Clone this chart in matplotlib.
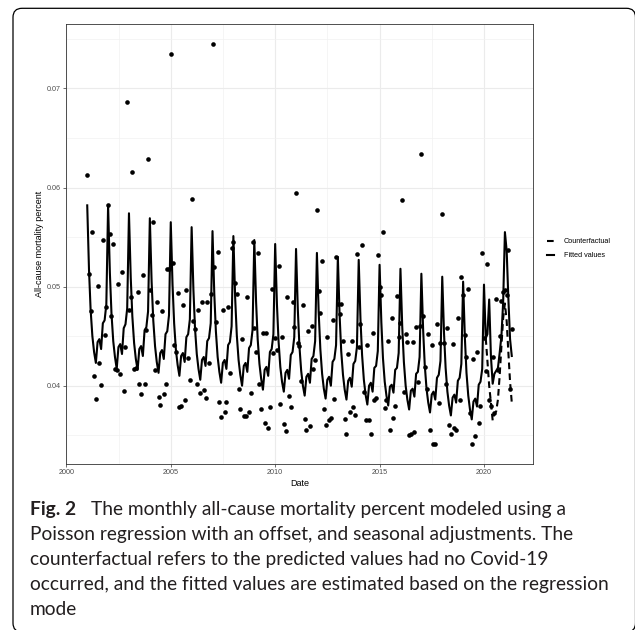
import pandas as pd
import matplotlib
matplotlib.use("Agg")
import matplotlib.pyplot as plt
from matplotlib.patches import FancyBboxPatch
from matplotlib.lines import Line2D

# monthly all-cause mortality percent, Jan 2001 - May 2021
observed = [
    # 2001
    .0613, .0513, .0475, .0555, .0410, .0387, .0501, .0423, .0401, .0547, .0451, .0479,
    # 2002
    .0582, .0553, .0470, .0543, .0417, .0416, .0503, .0412, .0515, .0395, .0439, .0686,
    # 2003
    .0476, .0490, .0616, .0417, .0418, .0495, .0402, .0392, .0512, .0402, .0456, .0629,
    # 2004
    .0497, .0471, .0565, .0416, .0484, .0389, .0381, .0475, .0392, .0402, .0518, .0518,
    # 2005
    .0735, .0524, .0441, .0434, .0494, .0379, .0380, .0481, .0386, .0497, .0428, .0406,
    # 2006
    .0588, .0465, .0457, .0402, .0476, .0393, .0484, .0396, .0388, .0484, .0423, .0493,
    # 2007
    .0745, .0520, .0464, .0535, .0384, .0368, .0476, .0373, .0384, .0479, .0413, .0539,
    # 2008
    .0545, .0504, .0493, .0397, .0376, .0447, .0369, .0369, .0490, .0373, .0393, .0545,
    # 2009
    .0458, .0434, .0534, .0402, .0377, .0453, .0362, .0453, .0357, .0379, .0498, .0433,
    # 2010
    .0448, .0436, .0521, .0382, .0449, .0361, .0354, .0490, .0390, .0379, .0484, .0459,
    # 2011
    .0594, .0443, .0440, .0405, .0481, .0366, .0355, .0455, .0359, .0460, .0417, .0426,
    # 2012
    .0577, .0496, .0473, .0526, .0376, .0360, .0449, .0365, .0367, .0466, .0387, .0530,
    # 2013
    .0482, .0472, .0482, .0445, .0366, .0351, .0432, .0373, .0445, .0379, .0370, .0533,
    # 2014
    .0439, .0462, .0542, .0394, .0365, .0441, .0365, .0351, .0453, .0386, .0388, .0532,
    # 2015
    .0500, .0492, .0555, .0378, .0386, .0445, .0355, .0468, .0367, .0380, .0491, .0449,
    # 2016
    .0463, .0587, .0394, .0452, .0444, .0350, .0351, .0444, .0353, .0459, .0404, .0460,
    # 2017
    .0634, .0470, .0419, .0397, .0452, .0355, .0441, .0341, .0341, .0462, .0383, .0443,
    # 2018
    .0573, .0443, .0402, .0458, .0360, .0351, .0442, .0357, .0355, .0468, .0386, .0510,
    # 2019
    .0492, .0451, .0429, .0498, .0372, .0341, .0427, .0349, .0434, .0362, .0380, .0534,
    # 2020
    .0448, .0415, .0523, .0386, .0380, .0429, .0372, .0488, .0416, .0450, .0485, .0495,
    # 2021
    .0497, .0492, .0537, .0397, .0457,
]

fitted = [
    .0582, .0517, .0477, .0450, .0434, .0423, .0444, .0447, .0437, .0463, .0466, .0482,
    .0582, .0514, .0473, .0445, .0429, .0417, .0439, .0442, .0432, .0458, .0462, .0478,
    .0574, .0509, .0470, .0443, .0427, .0416, .0437, .0440, .0430, .0456, .0459, .0475,
    .0569, .0505, .0466, .0440, .0424, .0413, .0433, .0436, .0427, .0452, .0455, .0471,
    .0565, .0502, .0463, .0436, .0421, .0410, .0430, .0433, .0424, .0449, .0452, .0467,
    .0560, .0497, .0458, .0432, .0417, .0406, .0426, .0429, .0420, .0445, .0448, .0463,
    .0556, .0493, .0455, .0429, .0414, .0403, .0423, .0426, .0417, .0441, .0444, .0460,
    .0551, .0489, .0451, .0426, .0411, .0400, .0420, .0423, .0414, .0438, .0441, .0456,
    .0547, .0485, .0447, .0422, .0407, .0396, .0416, .0419, .0410, .0434, .0437, .0452,
    .0543, .0482, .0445, .0419, .0404, .0394, .0413, .0416, .0407, .0431, .0434, .0449,
    .0538, .0477, .0440, .0415, .0400, .0390, .0409, .0412, .0403, .0427, .0430, .0445,
    .0534, .0474, .0437, .0412, .0397, .0387, .0406, .0409, .0400, .0424, .0427, .0441,
    .0530, .0471, .0435, .0411, .0396, .0386, .0405, .0408, .0399, .0422, .0425, .0439,
    .0527, .0467, .0431, .0406, .0391, .0381, .0400, .0403, .0394, .0418, .0420, .0435,
    .0522, .0464, .0428, .0404, .0390, .0380, .0399, .0401, .0393, .0416, .0418, .0433,
    .0518, .0460, .0424, .0400, .0386, .0376, .0395, .0397, .0389, .0412, .0414, .0429,
    .0513, .0456, .0421, .0397, .0383, .0373, .0391, .0394, .0386, .0408, .0411, .0425,
    .0510, .0453, .0418, .0394, .0380, .0370, .0388, .0391, .0383, .0405, .0408, .0422,
    .0505, .0448, .0413, .0390, .0376, .0366, .0384, .0387, .0379, .0401, .0404, .0417,
    .0502, .0448, .0452, .0487, .0430, .0402, .0412, .0415, .0418, .0433, .0450, .0484,
    .0555, .0536, .0490, .0447, .0430,
]

# counterfactual (no Covid-19), Feb 2020 - May 2021
counterfactual = [
    .0448, .0425, .0400, .0383, .0365, .0372, .0374, .0386, .0410, .0440, .0468,
    .0483, .0465, .0435, .0404, .0383,
]

year_ticks = [2000, 2005, 2010, 2015, 2020]
y_ticks = [0.04, 0.05, 0.06, 0.07]
y_minor = [0.035, 0.045, 0.055, 0.065, 0.075]

caption = [
    "The monthly all-cause mortality percent modeled using a",
    "Poisson regression with an offset, and seasonal adjustments. The",
    "counterfactual refers to the predicted values had no Covid-19",
    "occurred, and the fitted values are estimated based on the regression",
    "mode",
]

dates = pd.date_range("2001-01-01", periods=len(observed), freq="MS")
cf_dates = dates[-len(counterfactual):]

W, H = 635, 630
fig = plt.figure(figsize=(W / 100, H / 100), dpi=100)


def fx(px):
    return px / W


def fy(py):
    return 1 - py / H


ax = fig.add_axes([fx(66), fy(464), (533 - 66) / W, (464 - 24) / H])

ax.plot(cf_dates, counterfactual, color="black", lw=1.5, ls=(0, (3.2, 2.0)))
ax.plot(dates, fitted, color="black", lw=1.5)
ax.scatter(dates, observed, s=11, color="black", linewidths=0, zorder=3)

span = dates[-1] - dates[0]
ax.set_xlim(dates[0] - 0.05 * span, dates[-1] + 0.05 * span)
ax.set_ylim(0.0321, 0.0765)

major = [pd.Timestamp(f"{y}-01-01") for y in year_ticks]
minor = [major[i] + (major[i + 1] - major[i]) / 2 for i in range(len(major) - 1)]
ax.set_xticks(major)
ax.set_xticklabels([str(y) for y in year_ticks])
ax.set_xticks(minor, minor=True)
ax.set_yticks(y_ticks)
ax.set_yticklabels([f"{v:.2f}" for v in y_ticks])
ax.set_yticks(y_minor, minor=True)

ax.set_axisbelow(True)
ax.grid(which="major", color="#EBEBEB", lw=0.8)
ax.grid(which="minor", color="#F2F2F2", lw=0.5)
for s in ax.spines.values():
    s.set_color("#333333")
    s.set_linewidth(0.6)
ax.tick_params(which="major", length=2, width=0.5, color="#333333",
               labelsize=5.2, labelcolor="#4D4D4D", pad=1.5)
ax.tick_params(which="minor", length=0)
for lab in ax.get_xticklabels() + ax.get_yticklabels():
    lab.set_family("Liberation Sans")

ax.set_xlabel("Date", fontsize=6.5, family="Liberation Sans", labelpad=2)
ax.set_ylabel("All-cause mortality percent", fontsize=6.5,
              family="Liberation Sans", labelpad=2)

handles = [Line2D([], [], color="black", lw=1.5, ls=(0, (3.2, 2.0))),
           Line2D([], [], color="black", lw=1.5)]
leg = ax.legend(handles, ["Counterfactual", "Fitted values"],
                loc="upper left", bbox_to_anchor=(fx(547), fy(238)),
                bbox_transform=fig.transFigure, frameon=False,
                prop={"family": "Liberation Sans", "size": 5.2},
                handlelength=1.0, handletextpad=1.3, labelspacing=1.0,
                borderpad=0, borderaxespad=0)

# caption
cap_font = "Lato"
cap_size = 13.8
fig.text(fx(30), fy(515), "Fig. 2", family=cap_font, weight="bold",
         size=cap_size, color="#231F20", va="baseline")
fig.text(fx(91), fy(515), caption[0], family=cap_font, size=cap_size,
         color="#231F20", va="baseline")
for i, line in enumerate(caption[1:]):
    fig.text(fx(30), fy(540 + 25 * i), line, family=cap_font, size=cap_size,
             color="#231F20", va="baseline")

# rounded frame around the figure
frame = FancyBboxPatch((0.13, -0.02), 6.225, 6.237,
                       boxstyle="round,pad=0,rounding_size=0.09",
                       transform=fig.dpi_scale_trans, fill=False,
                       edgecolor="black", lw=0.9, clip_on=False)
fig.add_artist(frame)

fig.savefig("out.png", dpi=100)
